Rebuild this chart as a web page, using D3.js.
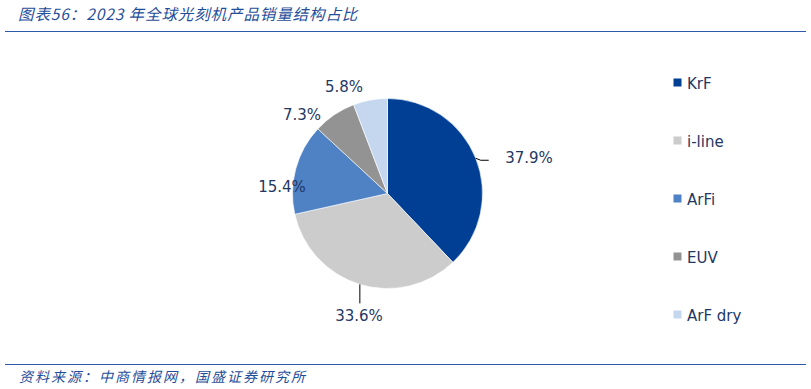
<!DOCTYPE html>
<html><head><meta charset="utf-8">
<script src="https://cdn.jsdelivr.net/npm/d3@7"></script>
<style>body{margin:0;background:#fff}svg{display:block}</style>
</head><body>
<script>
const categories = ["KrF", "i-line", "ArFi", "EUV", "ArF dry"];
const values = [37.9, 33.6, 15.4, 7.3, 5.8];
const colors = ["#003F94", "#CCCCCC", "#4F81C5", "#939393", "#C5D7EE"];
const labels = ["37.9%", "33.6%", "15.4%", "7.3%", "5.8%"];

const W = 811, H = 389;
const svg = d3.select("body").append("svg").attr("width", W).attr("height", H);
const txt = "#1F3864";
const font = "Verdana, 'DejaVu Sans', sans-serif";
const cjk = "'Noto Sans CJK SC', sans-serif";

svg.append("text").attr("x", 18).attr("y", 20)
  .attr("font-family", cjk).attr("font-size", 15.5).attr("font-style", "italic")
  .attr("letter-spacing", 0.9)
  .attr("fill", "#1F4E9A").text("图表56：2023 年全球光刻机产品销量结构占比");
svg.append("line").attr("x1", 5).attr("x2", 806).attr("y1", 31.5).attr("y2", 31.5)
  .attr("stroke", "#2E5AA8").attr("stroke-width", 1.2);
svg.append("line").attr("x1", 5).attr("x2", 806).attr("y1", 364.5).attr("y2", 364.5)
  .attr("stroke", "#2E5AA8").attr("stroke-width", 1.2);
svg.append("text").attr("x", 19).attr("y", 382)
  .attr("font-family", cjk).attr("font-size", 14).attr("font-style", "italic")
  .attr("letter-spacing", 2)
  .attr("fill", "#1F4E9A").text("资料来源：中商情报网，国盛证券研究所");

const cx = 387.5, cy = 193.5, r = 95;
const pie = d3.pie().sort(null).value(d => d)(values);
const arc = d3.arc().innerRadius(0).outerRadius(r);
const g = svg.append("g").attr("transform", `translate(${cx},${cy})`);
g.selectAll("path").data(pie).join("path")
  .attr("d", arc).attr("fill", (d, i) => colors[i]).attr("stroke", "#fff").attr("stroke-width", 0.6);

// labels
const labelPos = [[529, 163, "middle"], [359, 321, "middle"], [282, 192, "middle"], [302, 120, "middle"], [344, 92, "middle"]];
labels.forEach((t, i) => {
  svg.append("text").attr("x", labelPos[i][0]).attr("y", labelPos[i][1])
    .attr("text-anchor", labelPos[i][2]).attr("font-family", font).attr("font-size", 15)
    .attr("fill", txt).text(t);
});
// leader lines
const a0 = (pie[0].startAngle + pie[0].endAngle) / 2;
const p0 = [cx + Math.sin(a0) * r, cy - Math.cos(a0) * r];
svg.append("path").attr("d", `M${p0[0]},${p0[1]} L${p0[0] + 5},${p0[1] + 2} L${p0[0] + 13},${p0[1] + 2}`)
  .attr("fill", "none").attr("stroke", "#000").attr("stroke-width", 1);
const a1 = (pie[1].startAngle + pie[1].endAngle) / 2;
const p1 = [cx + Math.sin(a1) * r, cy - Math.cos(a1) * r];
svg.append("path").attr("d", `M${p1[0]},${p1[1]} L${p1[0]},${p1[1] + 19}`)
  .attr("fill", "none").attr("stroke", "#000").attr("stroke-width", 1);

// legend
const ly = d3.scalePoint().domain(categories).range([83, 315]);
const lg = svg.append("g");
categories.forEach((c, i) => {
  lg.append("rect").attr("x", 673.5).attr("y", ly(c) - 4.5).attr("width", 8).attr("height", 8).attr("fill", colors[i]);
  lg.append("text").attr("x", 687).attr("y", ly(c) + 5.5).attr("font-family", font).attr("font-size", 15)
    .attr("fill", txt).text(c);
});
</script>
</body></html>
